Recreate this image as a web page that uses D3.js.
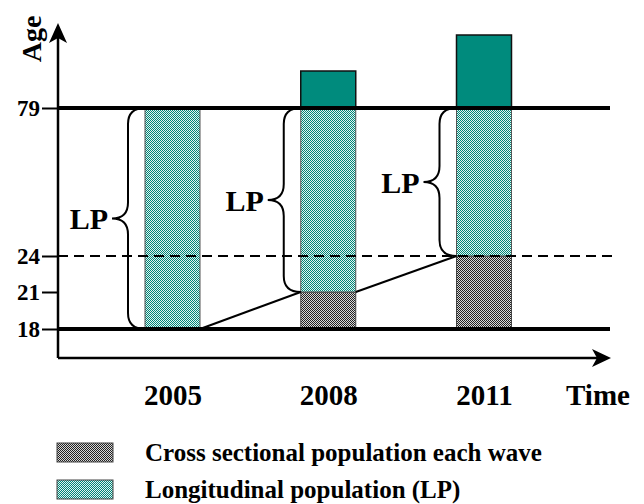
<!DOCTYPE html>
<html>
<head>
<meta charset="utf-8">
<script src="https://cdn.jsdelivr.net/npm/d3@7"></script>
<style>
    body { margin: 0; background: #fff; }
    svg { display: block; }
</style>
</head>
<body>
<div id="chart"></div>
<script>
// data
const years = ["2005", "2008", "2011"];
const ageTicks = [18, 21, 24, 79];
const crossTop = [18, 21, 24];     // cross sectional part goes from 18 up to this age
const lpTop = [79, 79, 79];        // longitudinal part goes up to 79
const solidTop = [79, 82, 85];     // solid block above 79
const legendItems = ["Cross sectional population each wave", "Longitudinal population (LP)"];

const FONT = "'Liberation Serif', 'Times New Roman', serif";

const width = 644, height = 504;
const axisX = 58, axisY = 358, lineEnd = 610;
const barW = 55;

const svg = d3.select("#chart").append("svg")
    .attr("width", width)
    .attr("height", height)
    .style("font-family", FONT)
    .style("font-weight", "bold");

// patterns
const defs = svg.append("defs");
const lpPat = defs.append("pattern")
    .attr("id", "lp-pat")
    .attr("width", 2).attr("height", 2)
    .attr("patternUnits", "userSpaceOnUse");
lpPat.append("rect").attr("width", 2).attr("height", 2).attr("fill", "#e4f4f1");
lpPat.append("rect").attr("width", 1).attr("height", 1).attr("fill", "#008577");
lpPat.append("rect").attr("x", 1).attr("y", 1).attr("width", 1).attr("height", 1).attr("fill", "#008577");

const csPat = defs.append("pattern")
    .attr("id", "cs-pat")
    .attr("width", 2).attr("height", 2)
    .attr("patternUnits", "userSpaceOnUse");
csPat.append("rect").attr("width", 2).attr("height", 2).attr("fill", "#d8d8d8");
csPat.append("rect").attr("width", 1).attr("height", 1).attr("fill", "#222");
csPat.append("rect").attr("x", 1).attr("y", 1).attr("width", 1).attr("height", 1).attr("fill", "#222");

// scales (the age axis is schematic, not linear)
const yScale = d3.scaleLinear()
    .domain([18, 21, 24, 79, 82, 85])
    .range([329, 292, 256, 108, 71, 35]);

const xScale = d3.scalePoint()
    .domain(years)
    .range([172.5, 484]);

const bars = years.map((y, i) => ({
    year: y, cross: crossTop[i], lp: lpTop[i], solid: solidTop[i]
}));

// cross sectional parts
svg.selectAll(".cs-bar")
    .data(bars.filter(d => d.cross > 18))
    .enter().append("rect")
    .attr("class", "cs-bar")
    .attr("x", d => xScale(d.year) - barW / 2)
    .attr("y", d => yScale(d.cross))
    .attr("width", barW)
    .attr("height", d => yScale(18) - yScale(d.cross))
    .attr("fill", "url(#cs-pat)")
    .attr("stroke", "#444")
    .attr("stroke-width", 1);

// longitudinal parts
svg.selectAll(".lp-bar")
    .data(bars)
    .enter().append("rect")
    .attr("class", "lp-bar")
    .attr("x", d => xScale(d.year) - barW / 2)
    .attr("y", d => yScale(d.lp))
    .attr("width", barW)
    .attr("height", d => yScale(d.cross) - yScale(d.lp))
    .attr("fill", "url(#lp-pat)")
    .attr("stroke", "#555")
    .attr("stroke-width", 1);

// solid parts above 79
svg.selectAll(".solid-bar")
    .data(bars.filter(d => d.solid > d.lp))
    .enter().append("rect")
    .attr("class", "solid-bar")
    .attr("x", d => xScale(d.year) - barW / 2)
    .attr("y", d => yScale(d.solid))
    .attr("width", barW)
    .attr("height", d => yScale(d.lp) - yScale(d.solid))
    .attr("fill", "#008b7d")
    .attr("stroke", "#111")
    .attr("stroke-width", 1.5);

// reference lines at 79 and 18 (thick) and 24 (dashed)
[79, 18].forEach(a => {
    svg.append("line")
        .attr("x1", axisX).attr("x2", lineEnd)
        .attr("y1", yScale(a)).attr("y2", yScale(a))
        .attr("stroke", "#000")
        .attr("stroke-width", 4);
});
svg.append("line")
    .attr("x1", axisX).attr("x2", lineEnd + 2)
    .attr("y1", yScale(24)).attr("y2", yScale(24))
    .attr("stroke", "#000")
    .attr("stroke-width", 2)
    .attr("stroke-dasharray", "10,6");

// connecting lines between waves
for (let i = 0; i < bars.length - 1; i++) {
    svg.append("line")
        .attr("x1", xScale(bars[i].year) + barW / 2)
        .attr("y1", yScale(bars[i].cross))
        .attr("x2", xScale(bars[i + 1].year) - barW / 2)
        .attr("y2", yScale(bars[i + 1].cross))
        .attr("stroke", "#000")
        .attr("stroke-width", 2);
}

// braces
const r = 16;
bars.forEach(d => {
    const bx = xScale(d.year) - barW / 2;
    const xv = bx - 17, xt = bx - 33;
    const y0 = yScale(d.lp), y1 = yScale(d.cross), ym = (y0 + y1) / 2;
    const p = d3.path();
    p.moveTo(bx, y0);
    p.quadraticCurveTo(xv, y0, xv, y0 + r);
    p.lineTo(xv, ym - r);
    p.quadraticCurveTo(xv, ym, xt, ym);
    p.quadraticCurveTo(xv, ym, xv, ym + r);
    p.lineTo(xv, y1 - r);
    p.quadraticCurveTo(xv, y1, bx, y1);
    svg.append("path")
        .attr("d", p.toString())
        .attr("fill", "none")
        .attr("stroke", "#000")
        .attr("stroke-width", 2);

    svg.append("text")
        .attr("x", xt - 4)
        .attr("y", ym)
        .attr("dy", "0.35em")
        .attr("text-anchor", "end")
        .style("font-size", "30px")
        .text("LP");
});

// y axis ticks
const yAxis = svg.append("g")
    .attr("transform", `translate(${axisX},0)`)
    .call(d3.axisLeft(yScale).tickValues(ageTicks).tickSize(16).tickPadding(2).tickFormat(d3.format("d")));
yAxis.select(".domain").remove();
yAxis.selectAll(".tick line").attr("stroke", "#000").attr("stroke-width", 2);
yAxis.selectAll(".tick text")
    .attr("fill", "#000")
    .style("font-family", FONT)
    .style("font-weight", "bold")
    .style("font-size", "23px");

// x axis labels
const xAxis = svg.append("g")
    .attr("transform", `translate(0,${axisY})`)
    .call(d3.axisBottom(xScale).tickSize(0).tickPadding(26));
xAxis.select(".domain").remove();
xAxis.selectAll(".tick text")
    .attr("fill", "#000")
    .style("font-family", FONT)
    .style("font-weight", "bold")
    .style("font-size", "29px");

// axis lines with arrows
svg.append("line")
    .attr("x1", axisX).attr("x2", axisX)
    .attr("y1", axisY).attr("y2", 32)
    .attr("stroke", "#000").attr("stroke-width", 2.5);
svg.append("path")
    .attr("d", `M${axisX},23 L${axisX + 9},43 L${axisX},38 L${axisX - 9},43 Z`)
    .attr("fill", "#000");

svg.append("line")
    .attr("x1", axisX).attr("x2", 600)
    .attr("y1", axisY).attr("y2", axisY)
    .attr("stroke", "#000").attr("stroke-width", 2.5);
svg.append("path")
    .attr("d", `M611,${axisY} L592,${axisY - 9} L597,${axisY} L592,${axisY + 9} Z`)
    .attr("fill", "#000");

// axis titles
svg.append("text")
    .attr("transform", "translate(41,39) rotate(-90)")
    .attr("text-anchor", "middle")
    .style("font-size", "28px")
    .text("Age");

svg.append("text")
    .attr("x", 598)
    .attr("y", 405)
    .attr("text-anchor", "middle")
    .style("font-size", "29px")
    .text("Time");

// legend
const legendFills = ["url(#cs-pat)", "url(#lp-pat)"];
const legendY = [443, 480];
const legend = svg.selectAll(".legend")
    .data(legendItems)
    .enter().append("g")
    .attr("class", "legend")
    .attr("transform", (d, i) => `translate(57,${legendY[i]})`);

legend.append("rect")
    .attr("width", 56)
    .attr("height", 19)
    .attr("fill", (d, i) => legendFills[i])
    .attr("stroke", "#444")
    .attr("stroke-width", 1);

legend.append("text")
    .attr("x", 88)
    .attr("y", 18)
    .style("font-size", "25px")
    .text(d => d);
</script>
</body>
</html>
